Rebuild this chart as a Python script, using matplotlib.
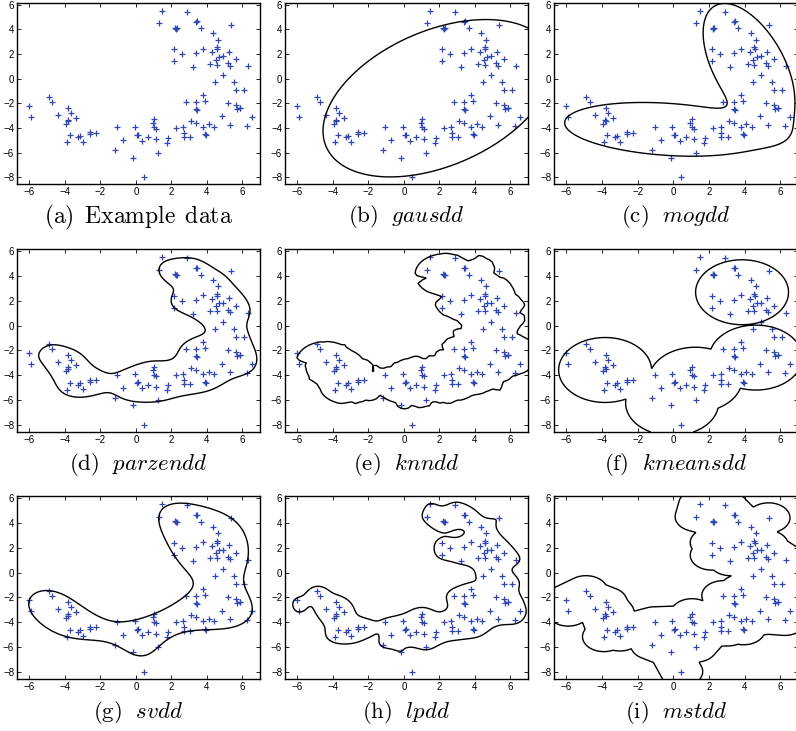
import numpy as np
import matplotlib
matplotlib.use("Agg")
import matplotlib.pyplot as plt

plt.rcParams['font.family'] = ['Liberation Sans', 'DejaVu Sans']
plt.rcParams['mathtext.fontset'] = 'cm'

# ---------------- data ----------------
px = [-6.0, -5.9, -4.9, -4.7, -4.4, -3.8, -3.65, -3.85, -3.95, -3.8, -3.4, -3.7, -3.9, -3.15, -3.25,
      -3.0, -2.6, -2.6, -2.25, -1.2, -1.05, -0.7, -0.05, 0.05, 0.1, -0.15, 0.35, 0.45, 0.7, 0.95,
      1.05, 1.05, 1.15, 1.15, 1.25, 1.75, 1.8, 2.25, 2.65, 2.7, 2.7, 2.8, 3.05, 3.1, 3.4,
      3.4, 3.45, 3.4, 3.8, 3.9, 3.8, 3.9, 3.95, 4.1, 4.4, 4.45, 4.9, 4.85, 5.2, 5.3,
      5.55, 5.65, 5.65, 5.7, 5.85, 5.9, 6.1, 6.25, 6.55, 6.3, 5.65, 5.25, 5.2, 5.3, 5.35,
      4.9, 4.7, 4.5, 4.55, 4.6, 4.65, 4.35, 4.3, 4.2, 4.55, 3.8, 3.65, 3.4, 3.45, 3.4,
      3.2, 2.9, 2.6, 2.15, 2.15, 2.2, 2.25, 2.3, 1.3, 1.5]
py = [-2.2, -3.1, -1.45, -1.85, -2.95, -2.35, -2.75, -3.35, -3.65, -3.45, -3.2, -4.6, -5.15, -4.65, -4.75,
      -5.1, -4.35, -4.5, -4.4, -5.8, -3.95, -5.0, -3.9, -4.6, -4.55, -6.4, -5.05, -7.95, -4.75, -3.6,
      -3.3, -3.95, -4.05, -4.9, -6.0, -5.2, -4.8, -4.0, -3.9, -4.4, -4.7, -1.85, -4.7, -3.4, -1.9,
      -2.45, -2.55, -3.6, -1.35, -1.8, -3.9, -4.5, -4.6, -3.7, -3.9, -0.25, 0.3, -3.05, -1.95, -3.75,
      -0.3, -0.9, -2.1, -2.45, -2.4, -2.35, -0.9, -3.85, -3.1, 1.0, 1.6, 2.2, 1.25, 1.05, 4.4,
      1.85, 1.8, 1.55, 2.55, 2.4, 3.15, 3.7, 2.15, 1.2, 1.15, 2.45, 4.1, 4.6, 4.65, 2.05,
      0.95, 5.45, 2.0, 2.4, 1.4, 4.15, 4.05, 4.1, 4.5, 5.5]

captions = [r'$\mathrm{(a)\ \,Example\ \,data}$', r'$\mathrm{(b)}\ \ gausdd$',
            r'$\mathrm{(c)}\ \ mogdd$', r'$\mathrm{(d)}\ \ parzendd$', r'$\mathrm{(e)}\ \ knndd$',
            r'$\mathrm{(f)}\ \ kmeansdd$', r'$\mathrm{(g)}\ \ svdd$', r'$\mathrm{(h)}\ \ lpdd$',
            r'$\mathrm{(i)}\ \ mstdd$']
caption_sizes = [17, 16.5, 16.5, 16.5, 16.5, 16.5, 16.5, 16.5, 16.5]
xticks = [-6, -4, -2, 0, 2, 4, 6]
yticks = [-8, -6, -4, -2, 0, 2, 4, 6]
kmeans_init = [(3.9, 2.7), (-3.8, -3.5), (0.4, -4.2), (0.1, -6.0), (4.7, -2.5)]

X = np.column_stack([px, py])
N = len(X)
XL = (-6.7, 7.0)
YL = (-8.55, 6.15)


def make_grid(n):
    gx, gy = np.meshgrid(np.linspace(XL[0], XL[1], n), np.linspace(YL[0], YL[1], n))
    return gx, gy, np.column_stack([gx.ravel(), gy.ravel()])


GX, GY, G = make_grid(320)


def sqd(A, B):
    return ((A[:, None, :] - B[None, :, :]) ** 2).sum(-1)


# ---------------- methods ----------------
def gauss_field(q):
    mu = X.mean(0)
    Si = np.linalg.inv(np.cov(X.T))
    f = lambda Z: np.einsum('ij,jk,ik->i', Z - mu, Si, Z - mu)
    return GX, GY, f(G).reshape(GX.shape), np.quantile(f(X), q)


def gpdf(Z, m, S):
    Si = np.linalg.inv(S)
    d = np.einsum('ij,jk,ik->i', Z - m, Si, Z - m)
    return np.exp(-0.5 * d) / (2 * np.pi * np.sqrt(np.linalg.det(S)))


def mog_field(q):
    lab = ((X[:, 1] > -1.0) & (X[:, 0] > 1.5)).astype(int)
    R = np.column_stack([lab, 1 - lab]).astype(float)
    for _ in range(200):
        pis, mus, Ss = [], [], []
        for k in range(2):
            w = R[:, k]
            m = (w[:, None] * X).sum(0) / w.sum()
            D = X - m
            S = (w[:, None, None] * D[:, :, None] * D[:, None, :]).sum(0) / w.sum() + 0.01 * np.eye(2)
            pis.append(w.mean()); mus.append(m); Ss.append(S)
        P = np.column_stack([pis[k] * gpdf(X, mus[k], Ss[k]) for k in range(2)])
        R = P / P.sum(1, keepdims=True)
    p = lambda Z: sum(pis[k] * gpdf(Z, mus[k], Ss[k]) for k in range(2))
    return GX, GY, p(G).reshape(GX.shape), np.quantile(p(X), q)


def parzen_field(h, q):
    ker = lambda Z: np.exp(-sqd(Z, X) / (2 * h * h))
    pg = ker(G).sum(1)
    pt = ker(X).sum(1) - 1.0
    return GX, GY, pg.reshape(GX.shape), np.quantile(pt, q)


def knn_field(k, q, n):
    gx, gy, g = make_grid(n)
    dg = np.sort(np.sqrt(sqd(g, X)), axis=1)[:, k - 1]
    dt = np.sort(np.sqrt(sqd(X, X)), axis=1)[:, k]
    return gx, gy, dg.reshape(gx.shape), np.quantile(dt, q)


def kmeans_field(q):
    C = np.array(kmeans_init, float)
    C = np.array([X[np.argmin(((X - c) ** 2).sum(1))] for c in C])
    for _ in range(100):
        a = np.argmin(sqd(X, C), 1)
        C = np.array([X[a == k].mean(0) for k in range(len(C))])
    dg = np.sqrt(sqd(G, C).min(1))
    dt = np.sqrt(sqd(X, C).min(1))
    return GX, GY, dg.reshape(GX.shape), np.quantile(dt, q)


def svdd_field(sigma, frac):
    K = np.exp(-sqd(X, X) / (2 * sigma ** 2))
    Cb = 1.0 / (N * frac)
    a = np.ones(N) / N
    L = 2 * np.linalg.eigvalsh(K).max()

    def proj(v):
        lo, hi = v.min() - 1, v.max()
        for _ in range(80):
            t = 0.5 * (lo + hi)
            if np.clip(v - t, 0, Cb).sum() > 1:
                lo = t
            else:
                hi = t
        return np.clip(v - 0.5 * (lo + hi), 0, Cb)

    for _ in range(4000):
        a = proj(a - (2 * K @ a) / L)
    sv = (a > 1e-5) & (a < Cb - 1e-5)
    t = (K[sv] @ a).mean()
    Kg = np.exp(-sqd(G, X) / (2 * sigma ** 2))
    return GX, GY, (Kg @ a).reshape(GX.shape), t


def mst_field(thr):
    D = np.sqrt(sqd(X, X))
    intree = np.zeros(N, bool); intree[0] = True
    best = D[0].copy(); par = np.zeros(N, int)
    edges = []
    for _ in range(N - 1):
        cand = np.where(~intree, best, np.inf)
        j = int(np.argmin(cand))
        edges.append((par[j], j))
        intree[j] = True
        upd = D[j] < best
        best[upd] = D[j][upd]; par[upd] = j
    dmin = np.full(len(G), np.inf)
    for i, j in edges:
        A, B = X[i], X[j]
        AB = B - A
        t = np.clip(((G - A) @ AB) / (AB @ AB), 0, 1)
        P = A + t[:, None] * AB
        dmin = np.minimum(dmin, np.sqrt(((G - P) ** 2).sum(1)))
    return GX, GY, dmin.reshape(GX.shape), thr


fields = [None, gauss_field(0.92), mog_field(0.09), parzen_field(0.8, 0.2), knn_field(5, 0.92, 70),
          kmeans_field(0.96), svdd_field(2.2, 0.1), parzen_field(0.55, 0.22), mst_field(1.2)]

# ---------------- layout ----------------
W, H = 796, 731
fig = plt.figure(figsize=(W / 100, H / 100), dpi=100)
lefts = [17, 285, 554]
widths = [243, 243, 244]
tops = [3, 249, 496]
heights = [181, 183, 183]

for idx in range(9):
    r, c = divmod(idx, 3)
    l, w, t, h = lefts[c], widths[c], tops[r], heights[r]
    ax = fig.add_axes([l / W, 1 - (t + h) / H, w / W, h / H])
    ax.plot(X[:, 0], X[:, 1], '+', color='#3046b4', ms=4.2, mew=0.9)
    if fields[idx] is not None:
        gx, gy, Z, lev = fields[idx]
        ax.contour(gx, gy, Z, levels=[lev], colors='k', linewidths=1.0)
    ax.set_xlim(*XL)
    ax.set_ylim(*YL)
    ax.set_xticks(xticks)
    ax.set_yticks(yticks)
    ax.tick_params(direction='in', top=True, right=True, length=3, width=0.6,
                   labelsize=7, pad=2)
    for s in ax.spines.values():
        s.set_linewidth(1.0)
    fig.text((l + w / 2) / W, 1 - (t + h + 33) / H, captions[idx], ha='center', va='center',
             fontsize=caption_sizes[idx])

fig.savefig('out.png', dpi=100)
